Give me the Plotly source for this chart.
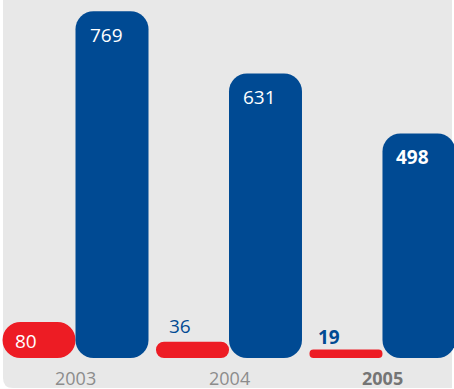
import plotly.graph_objects as go

# Values per year
years = ["2003", "2004", "2005"]
year_ticktext = ["2003", "2004", "<b>2005</b>"]
red_values = [80, 36, 19]
blue_values = [769, 631, 498]
red_labels = ["80", "36", "<b>19</b>"]
blue_labels = ["769", "631", "<b>498</b>"]

RED = "#ed1c24"
BLUE = "#004a93"
BG = "#e8e8e8"
YEAR_GREY = "#8c8c8c"
FONT = "Open Sans"

W_PX, H_PX = 454, 389
X_RANGE = [-0.492, 2.466]
Y_RANGE = [-68.7, 793.8]
BAR_W = 0.4756
px_per_unit = H_PX / (Y_RANGE[1] - Y_RANGE[0])

fig = go.Figure()

# An explicit base makes plotly round both ends of each bar.
def add_bar(x, value, color, offset, radius):
    fig.add_trace(go.Bar(
        x=[x], y=[value], base=[0],
        offset=offset, width=BAR_W,
        marker=dict(color=color, cornerradius=radius, line=dict(width=0)),
        showlegend=False, hoverinfo="skip",
    ))

for i, v in enumerate(red_values):
    add_bar(i, v, RED, -BAR_W, v / 2 * px_per_unit)
for i, v in enumerate(blue_values):
    add_bar(i, v, BLUE, 0, 18)

annotations = []
# labels inside the blue bars
for i, (v, t) in enumerate(zip(blue_values, blue_labels)):
    annotations.append(dict(x=i + BAR_W / 2, y=v, text=t, xshift=-6, yshift=-24,
                            showarrow=False, xanchor="center", yanchor="middle",
                            font=dict(family=FONT, size=19, color="white")))
# labels for the red bars
red_label_shift = [(-13, None), (-12.5, 16), (-17, 12.5)]
for i, (v, t) in enumerate(zip(red_values, red_labels)):
    xs, ys = red_label_shift[i]
    if ys is None:
        annotations.append(dict(x=i - BAR_W / 2, y=v / 2, text=t, xshift=xs, yshift=-1.5,
                                showarrow=False, xanchor="center", yanchor="middle",
                                font=dict(family=FONT, size=19, color="white")))
    else:
        annotations.append(dict(x=i - BAR_W / 2, y=v, text=t, xshift=xs, yshift=ys,
                                showarrow=False, xanchor="center", yanchor="middle",
                                font=dict(family=FONT, size=19, color=BLUE)))
# year labels under each pair
for i, t in enumerate(year_ticktext):
    annotations.append(dict(x=i, y=0, text=t, yshift=-20, showarrow=False,
                            xanchor="center", yanchor="middle", borderpad=0,
                            font=dict(family=FONT, size=18,
                                      color="#757575" if "<b>" in t else YEAR_GREY)))

# grey panel with a rounded lower-left corner
x0, x1 = 3 / W_PX, 452 / W_PX
y0 = 1 / H_PX
rx, ry = 10 / W_PX, 10 / H_PX
panel = (f"M {x0},1 L {x1},1 L {x1},{y0} L {x0 + rx},{y0} "
         f"Q {x0},{y0} {x0},{y0 + ry} Z")

fig.update_layout(
    width=W_PX, height=H_PX,
    margin=dict(l=0, r=0, t=0, b=0),
    paper_bgcolor="white", plot_bgcolor="rgba(0,0,0,0)",
    barmode="overlay",
    xaxis=dict(range=X_RANGE, visible=False, fixedrange=True),
    yaxis=dict(range=Y_RANGE, visible=False, fixedrange=True),
    shapes=[dict(type="path", path=panel, xref="paper", yref="paper",
                 fillcolor=BG, line=dict(width=0), layer="below")],
    annotations=annotations,
    showlegend=False,
)

fig.write_html("out.html", config={"displayModeBar": False})
